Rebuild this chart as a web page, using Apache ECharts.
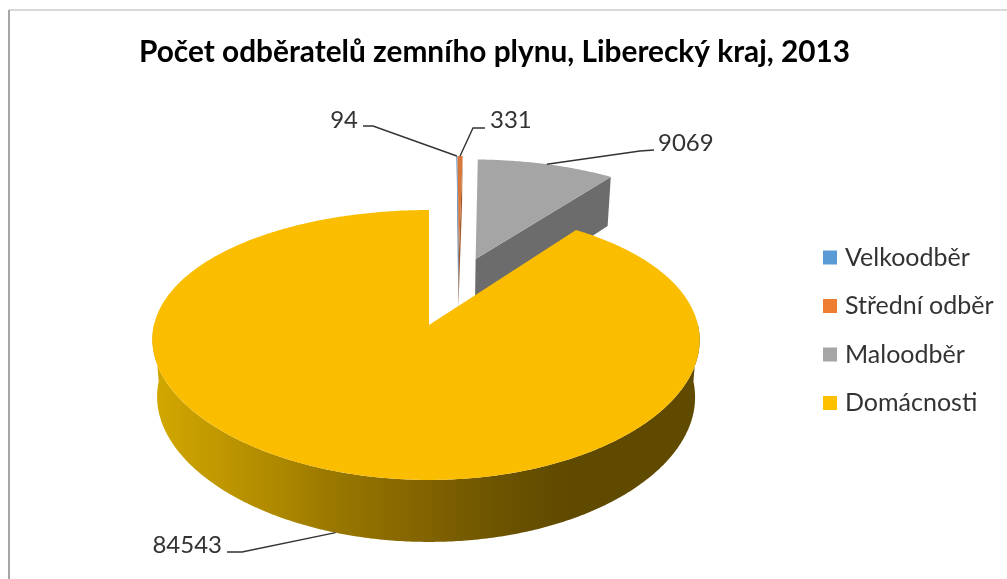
<!DOCTYPE html>
<html><head><meta charset="utf-8">
<style>html,body{margin:0;padding:0;background:#fff}#c{width:1007px;height:579px}</style>
<script src="https://cdn.jsdelivr.net/npm/echarts@6/dist/echarts.min.js"></script>
</head><body><div id="c"></div>
<script>
const categories = ['Velkoodběr', 'Střední odběr', 'Maloodběr', 'Domácnosti'];
const values = [94, 331, 9069, 84543];
const titleText = 'Počet odběratelů zemního plynu, Liberecký kraj, 2013';

const topColors = ['#7fa6cc', '#d9763a', '#a5a5a5', '#fbbd00'];
const cutColors = ['#5f86ad', '#a3562a', '#6c6c6c', '#806000'];
// Explosion of every slice, in pie radii, from the apex of the largest slice
const offsets = [[0.117, -0.58], [0.117, -0.58], [0.182, -0.54], [0, 0]];
// Leader layout: elbow and label anchor
const leaders = [
  {elbow: [373, 126], end: [363, 126], text: [358, 120], align: 'right'},
  {elbow: [473, 128], end: [485, 128], text: [490, 120], align: 'left'},
  {elbow: [640, 151], end: [654, 150], text: [658, 143], align: 'left'},
  {elbow: [242, 552], end: [227, 552], text: [222, 545], align: 'right'}
];

const total = values.reduce((a, b) => a + b, 0);
const O = {x: 429, y: 325, rx: 272, ry: 132, kx: 0.11, ky: 0.148};
const top3d = (U, V) => [
  O.x + O.rx * U / (1 - O.kx * V) - 3 * U * U,
  O.y + O.ry * V / (1 - O.ky * V)
];
const bottom3d = (U, V) => {
  const p = top3d(U, V);
  return [O.x + (p[0] - O.x) * 0.983, p[1] + 56.5 + 5.5 * V];
};
const wallGradient = new echarts.graphic.LinearGradient(150, 0, 700, 0, [
  {offset: 0, color: '#d4a900'}, {offset: 0.22, color: '#b08a00'},
  {offset: 0.33, color: '#9a7800'}, {offset: 0.51, color: '#806200'},
  {offset: 0.64, color: '#6b5300'}, {offset: 0.76, color: '#5f4a00'},
  {offset: 1, color: '#5f4a00'}
], true);

function renderSlice(params, api) {
  const i = params.seriesIndex;
  const before = values.slice(0, i).reduce((a, b) => a + b, 0);
  const a0 = before / total * 2 * Math.PI;
  const a1 = (before + api.value(0)) / total * 2 * Math.PI;
  const [cu, cv] = offsets[i];
  const at = a => [cu + Math.sin(a), cv - Math.cos(a)];
  const arc = (s, e, fn) => {
    const n = Math.max(2, Math.ceil((e - s) / 0.01));
    const pts = [];
    for (let k = 0; k <= n; k++) { const w = at(s + (e - s) * k / n); pts.push(fn(w[0], w[1])); }
    return pts;
  };
  const children = [];
  const s = Math.max(a0, Math.PI / 2), e = Math.min(a1, Math.PI * 1.5);
  if (e > s) {
    children.push({type: 'polygon', shape: {points: arc(s, e, top3d).concat(arc(s, e, bottom3d).reverse())},
      style: {fill: i === 3 ? wallGradient : cutColors[i]}});
  }
  if (a1 > 0 && a1 < Math.PI) {
    const w = at(a1);
    children.push({type: 'polygon', shape: {points: [top3d(cu, cv), top3d(w[0], w[1]), bottom3d(w[0], w[1]), bottom3d(cu, cv)]},
      style: {fill: cutColors[i]}});
  }
  children.push({type: 'polygon', shape: {points: [top3d(cu, cv)].concat(arc(a0, a1, top3d))}, style: {fill: topColors[i]}});
  const mid = at((a0 + a1) / 2);
  const anchor = i === 3 ? bottom3d(mid[0], mid[1]) : top3d(mid[0], mid[1]);
  const L = leaders[i];
  children.push({type: 'polyline', shape: {points: [anchor, L.elbow, L.end]}, style: {fill: null, stroke: '#333333', lineWidth: 1.4}});
  children.push({type: 'text', style: {x: L.text[0], y: L.text[1], text: String(api.value(0)), align: L.align, verticalAlign: 'middle',
    font: '24px Lato', fill: '#333333'}});
  return {type: 'group', children};
}

const chart = echarts.init(document.getElementById('c'), null, {renderer: 'canvas'});
chart.setOption({
  animation: false,
  backgroundColor: '#ffffff',
  title: {text: titleText, left: 134, top: 32, textStyle: {fontFamily: 'Lato', fontWeight: 'bold', fontSize: 29.8, color: '#000000'}},
  legend: {orient: 'vertical', left: 818, top: 240, itemWidth: 14, itemHeight: 14, itemGap: 23.5,
    icon: 'rect', data: categories, selectedMode: false,
    textStyle: {fontFamily: 'Lato', fontSize: 25, color: '#333333', padding: [0, 0, 0, 3]}},
  graphic: [
    {type: 'line', silent: true, shape: {x1: 9, y1: 10, x2: 1007, y2: 10}, style: {stroke: '#d9d9d9', lineWidth: 2}},
    {type: 'line', silent: true, shape: {x1: 9, y1: 10, x2: 9, y2: 579}, style: {stroke: '#a6a6a6', lineWidth: 2}}
  ],
  series: categories.map((name, i) => ({
    type: 'custom', name, coordinateSystem: 'none', silent: true,
    itemStyle: {color: ['#5b9bd5', '#ed7d31', '#a5a5a5', '#ffc000'][i]},
    data: [[values[i]]],
    renderItem: renderSlice
  }))
});
</script></body></html>
